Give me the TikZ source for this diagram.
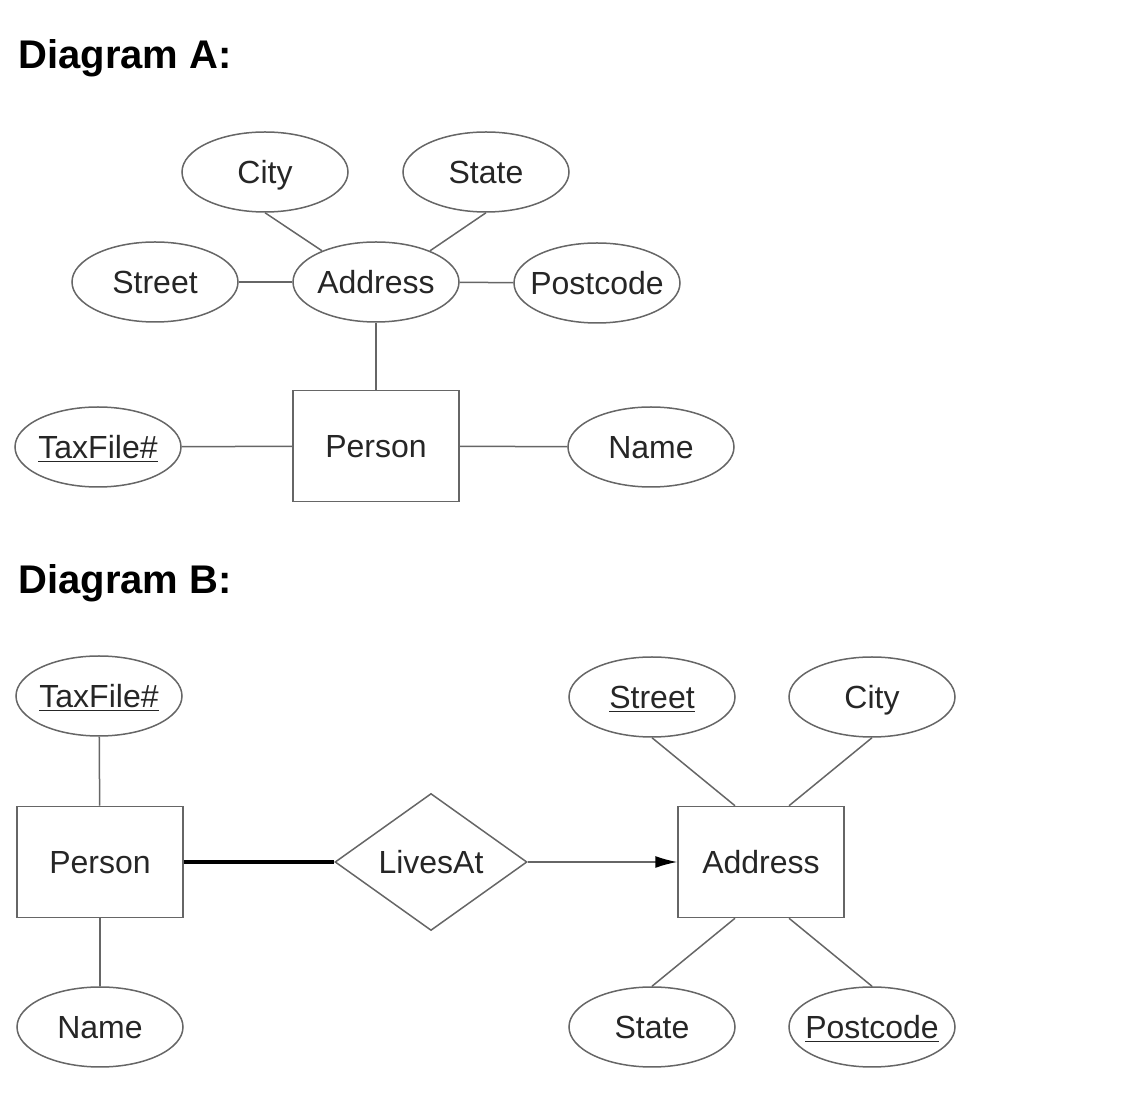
\documentclass[tikz,border=0pt]{standalone}
\usepackage{fontspec}
\setmainfont{Liberation Sans}
\usetikzlibrary{shapes.geometric,arrows.meta}

\begin{document}
\begin{tikzpicture}[x=0.5pt, y=-0.5pt, font=\fontsize{16}{19}\selectfont, heading/.style={anchor=base west, inner sep=0pt, font=\fontsize{20}{24}\selectfont\bfseries}, attribute/.style={ellipse, draw=black!60, line width=0.75pt, minimum width=83pt, minimum height=40pt, inner xsep=-8pt, inner ysep=0pt, text height=11.5pt, text depth=0pt, text=black!85}, entity/.style={rectangle, draw=black!60, line width=0.75pt, minimum width=83pt, minimum height=55.5pt, text height=11.5pt, text depth=0pt, text=black!85}, relation/.style={diamond, draw=black!60, line width=0.75pt, minimum width=96pt, minimum height=68.5pt, inner sep=0pt, text height=11.5pt, text depth=0pt, text=black!85}, link/.style={draw=black!60, line width=0.75pt}]

\useasboundingbox (0, 0) rectangle (1148, 1106);

\node[heading] (titlea) at (18, 69) {Diagram A:};
\node[heading] (titleb) at (18, 594) {Diagram B:};

% diagram A
\node[attribute] (acity) at (265, 172) {City};
\node[attribute] (astate) at (486, 172) {State};
\node[attribute] (astreet) at (155, 282) {Street};
\node[attribute] (aaddress) at (376, 282) {Address};
\node[attribute] (apostcode) at (597, 283) {Postcode};
\node[entity] (aperson) at (376, 446) {Person};
\node[attribute] (ataxfile) at (98, 447) {\underline{TaxFile\#}};
\node[attribute] (aname) at (651, 447) {Name};

\draw [link] (acity.south) -- (aaddress.150);
\draw [link] (astate.south) -- (aaddress.30);
\draw [link] (astreet) -- (aaddress);
\draw [link] (aaddress) -- (apostcode);
\draw [link] (aaddress) -- (aperson);
\draw [link] (ataxfile) -- (aperson);
\draw [link] (aperson) -- (aname);

% diagram B
\node[attribute] (btaxfile) at (99, 696) {\underline{TaxFile\#}};
\node[entity] (bperson) at (100, 862) {Person};
\node[attribute] (bname) at (100, 1027) {Name};
\node[relation] (livesat) at (431, 862) {LivesAt};
\node[entity] (baddress) at (761, 862) {Address};
\node[attribute] (bstreet) at (652, 697) {\underline{Street}};
\node[attribute] (bcity) at (872, 697) {City};
\node[attribute] (bstate) at (652, 1027) {State};
\node[attribute] (bpostcode) at (872, 1027) {\underline{Postcode}};

\draw [link] (btaxfile) -- (bperson);
\draw [link] (bperson) -- (bname);
\draw [link, draw=black, line width=2.2pt] (bperson) -- (livesat);
\draw [link, -{Latex[length=11pt, width=6pt, black]}] (livesat) -- (baddress);
\draw [link] (bstreet.south) -- ([xshift=-13pt]baddress.north);
\draw [link] (bcity.south) -- ([xshift=14pt]baddress.north);
\draw [link] (bstate.north) -- ([xshift=-13pt]baddress.south);
\draw [link] (bpostcode.north) -- ([xshift=14pt]baddress.south);

\end{tikzpicture}
\end{document}
